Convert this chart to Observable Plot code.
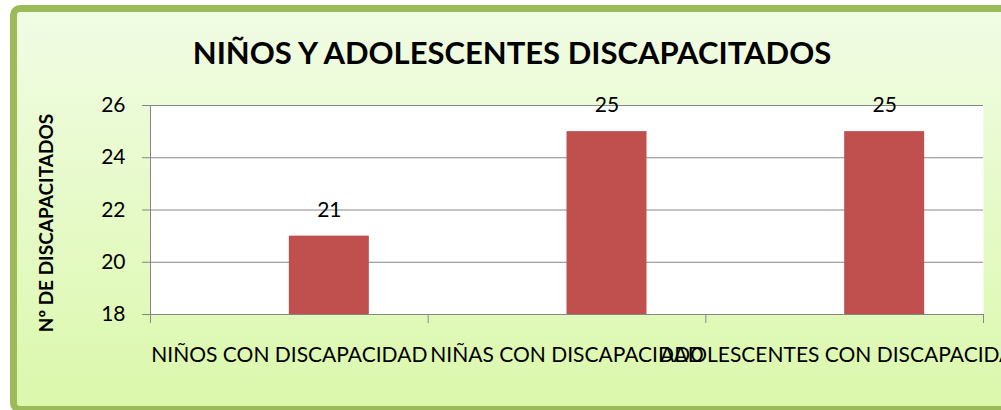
<!DOCTYPE html>
<html><head><meta charset="utf-8">
<script src="https://cdn.jsdelivr.net/npm/d3@7"></script>
<script src="https://cdn.jsdelivr.net/npm/@observablehq/plot@0.6"></script>
<style>
html,body{margin:0;padding:0;width:1001px;height:410px;overflow:hidden;background:#fff;}
#box{position:absolute;left:10px;top:5px;width:1030px;height:408px;box-sizing:border-box;border:7px solid #9BBB59;border-radius:10px;background:linear-gradient(#F1FCE4,#DBF8AC);}
#chart{position:absolute;left:0;top:0;}
</style></head>
<body>
<div id="box"></div>
<div id="chart"></div>
<script>
const title = "NIÑOS Y ADOLESCENTES DISCAPACITADOS";
const yLabel = "Nº DE DISCAPACITADOS";
const categories = ["NIÑOS CON DISCAPACIDAD", "NIÑAS CON DISCAPACIDAD", "ADOLESCENTES CON DISCAPACIDAD"];
const values = [21, 25, 25];
const yTicks = [18, 20, 22, 24, 26];

const data = categories.map((c, i) => ({cat: c, i, value: values[i]}));
const barFrac = 80 / 277.7;
const grid = "#868686";
const font = "Lato, 'Open Sans', sans-serif";

const chart = Plot.plot({
  width: 1001, height: 410,
  marginLeft: 150, marginRight: 18, marginTop: 105, marginBottom: 96,
  style: {background: "transparent", fontFamily: font, color: "#000", overflow: "visible"},
  x: {domain: [0, categories.length]},
  y: {domain: [yTicks[0], yTicks[yTicks.length - 1]]},
  marks: [
    Plot.frame({fill: "white", stroke: null}),
    Plot.ruleY(yTicks, {stroke: grid}),
    Plot.axisY({ticks: yTicks, tickSize: 8, tickPadding: 17, fontSize: 21, stroke: grid, label: null, tickFormat: d => String(d)}),
    Plot.axisX({ticks: d3.range(categories.length + 1), tickSize: 9, tickFormat: () => "", stroke: grid, label: null}),
    Plot.axisX({ticks: categories.map((c, i) => i + 0.5), tickSize: 0, tickPadding: 33, fontSize: 21, label: null,
      tickFormat: t => categories[Math.floor(t)]}),
    Plot.ruleX([0], {stroke: grid}),
    Plot.rectY(data, {x1: d => d.i + 0.5, x2: d => d.i + 0.5 + barFrac, y1: yTicks[0], y2: "value", fill: "#C0504D"}),
    Plot.text(data, {x: d => d.i + 0.5 + barFrac / 2, y: "value", text: d => String(d.value), dy: -26, fontSize: 21, fill: "#000"}),
    Plot.text([yLabel], {frameAnchor: "left", rotate: -90, dx: -104, dy: 13, textAnchor: "middle", lineAnchor: "middle", fontWeight: "bold", fontSize: 19, fill: "#000"}),
    Plot.text([title], {frameAnchor: "top", dx: -55, dy: -51, lineAnchor: "middle", fontWeight: "bold", fontSize: 31, fill: "#000"})
  ]
});
document.getElementById("chart").appendChild(chart);
</script>
</body></html>
